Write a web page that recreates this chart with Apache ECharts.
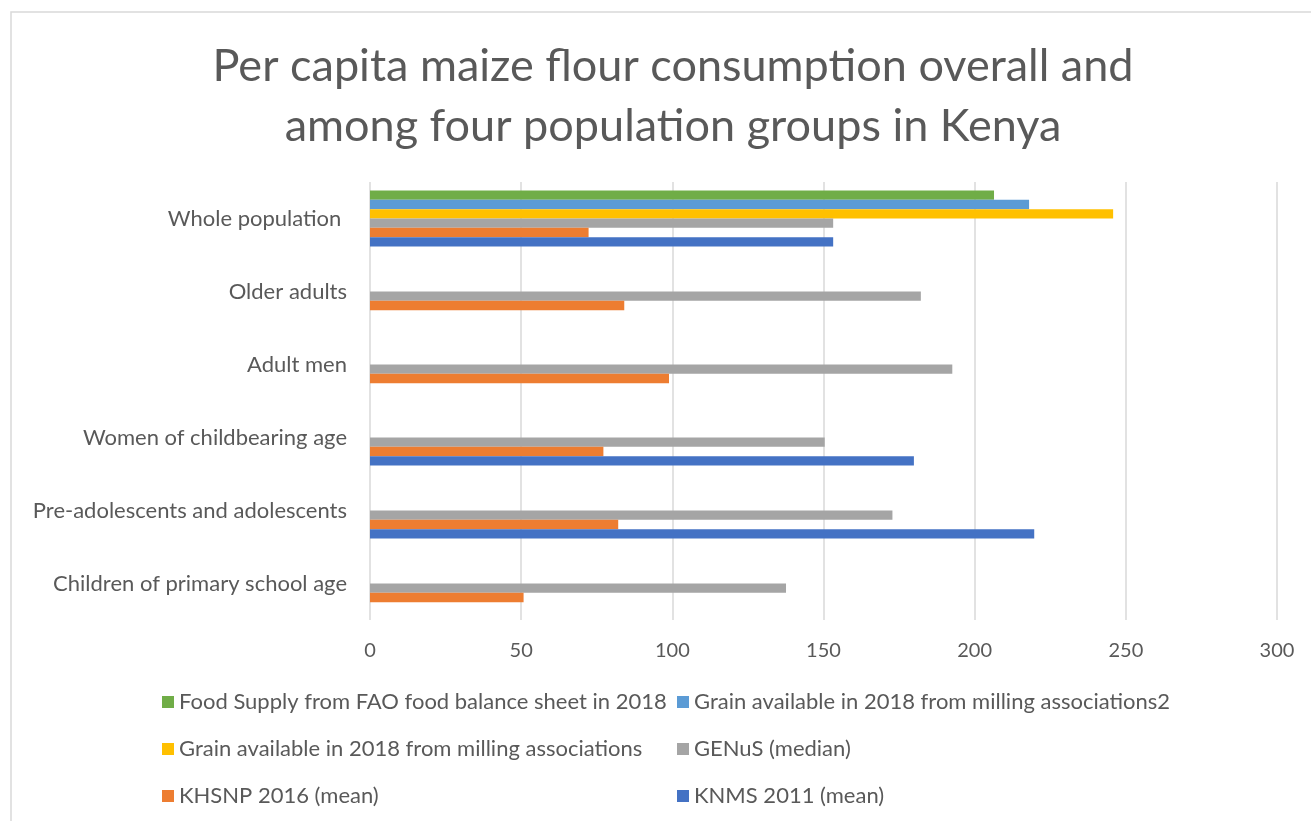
<!DOCTYPE html>
<html>
<head>
<meta charset="utf-8">
<script src="https://cdn.jsdelivr.net/npm/echarts@6/dist/echarts.min.js"></script>
<style>
  html, body { margin: 0; padding: 0; background: #fff; }
  #chart { width: 1311px; height: 821px; }
</style>
</head>
<body>
<div id="chart"></div>
<script>
// categories listed bottom -> top
var groups = ['Children of primary school age', 'Pre-adolescents and adolescents', 'Women of childbearing age', 'Adult men', 'Older adults', 'Whole population '];

var knms   = [null, 219.7, 179.9, null, null, 153.2];
var khsnp  = [50.8, 82.1, 77.2, 98.9, 84.1, 72.3];
var genus  = [137.6, 172.8, 150.4, 192.6, 182.2, 153.2];
var grain  = [null, null, null, null, null, 245.8];
var grain2 = [null, null, null, null, null, 218.0];
var fao    = [null, null, null, null, null, 206.4];

var xTicks = [0, 50, 100, 150, 200, 250, 300];

var names = {
	knms: 'KNMS 2011 (mean)',
	khsnp: 'KHSNP 2016 (mean)',
	genus: 'GENuS (median)',
	grain: 'Grain available in 2018 from milling associations',
	grain2: 'Grain available in 2018 from milling associations2',
	fao: 'Food Supply from FAO food balance sheet in 2018'
};
var colors = {
	knms: '#4472C4', khsnp: '#ED7D31', genus: '#A5A5A5',
	grain: '#FFC000', grain2: '#5B9BD5', fao: '#70AD47'
};

var font = 'Lato, "Open Sans", sans-serif';
var txt = '#595959';

function bar(key, data){
	return {
		name: names[key],
		type: 'bar',
		data: data,
		barGap: '0%',
		barCategoryGap: '23%',
		itemStyle: { color: colors[key] },
		emphasis: { disabled: true }
	};
}

// legend: 2 columns x 3 rows
var legendOrder = ['fao', 'grain2', 'grain', 'genus', 'khsnp', 'knms'];
var colX = [162, 677];
var rowY = [691, 738, 785];
var legends = legendOrder.map(function(k, i){
	return {
		data: [names[k]],
		left: colX[i % 2],
		top: rowY[Math.floor(i / 2)],
		padding: 0,
		icon: 'rect',
		itemWidth: 12,
		itemHeight: 12,
		itemGap: 6,
		selectedMode: false,
		textStyle: { fontFamily: font, fontSize: 22, color: txt, padding: [0, 0, 0, 0] }
	};
});

var myChart = echarts.init(document.getElementById('chart'));
var option = {
	backgroundColor: '#fff',
	animation: false,
	title: {
		text: 'Per capita maize flour consumption overall and\namong four population groups in Kenya',
		left: 668,
		top: 31,
		textAlign: 'center',
		textStyle: { fontFamily: font, fontSize: 45, fontWeight: 'normal', color: txt, lineHeight: 60 }
	},
	graphic: [{
		type: 'rect',
		shape: { x: 11, y: 12, width: 1400, height: 900 },
		style: { fill: 'none', stroke: '#d9d9d9', lineWidth: 1.5 },
		silent: true,
		z: -10
	}],
	legend: legends,
	grid: { left: 370, right: 34, top: 182, bottom: 201 },
	xAxis: {
		type: 'value',
		min: xTicks[0],
		max: xTicks[xTicks.length - 1],
		interval: 50,
		axisLine: { show: false },
		axisTick: { show: false },
		axisLabel: { fontFamily: font, fontSize: 20, color: txt, margin: 21 },
		splitLine: { lineStyle: { color: '#d9d9d9', width: 1.5 } }
	},
	yAxis: {
		type: 'category',
		data: groups,
		axisLine: { show: false },
		axisTick: { show: false },
		axisLabel: { fontFamily: font, fontSize: 22, color: txt, margin: 23 }
	},
	// first series is drawn at the top of each group
	series: [
		bar('fao', fao),
		bar('grain2', grain2),
		bar('grain', grain),
		bar('genus', genus),
		bar('khsnp', khsnp),
		bar('knms', knms)
	]
};
myChart.setOption(option);
</script>
</body>
</html>
